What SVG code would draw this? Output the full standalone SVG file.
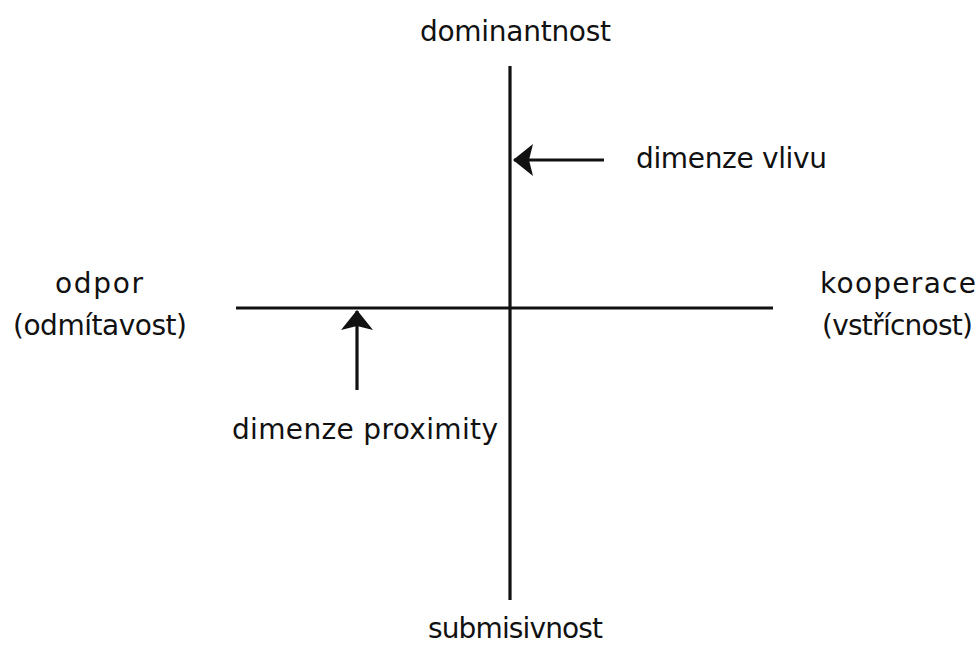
<svg xmlns="http://www.w3.org/2000/svg" width="978" height="648" viewBox="0 0 978 648">
<style>
.t{font-family:"DejaVu Sans","Liberation Sans",sans-serif;font-size:28px;fill:#111}
.ax{stroke:#111;stroke-width:3.2;fill:none}
</style>
<defs>
<marker id="ah" viewBox="0 0 20 32" refX="19" refY="16" markerWidth="20" markerHeight="32" markerUnits="userSpaceOnUse" orient="auto">
<path d="M20,16 L0,0 L4,16 L0,32 Z" fill="#111"/>
</marker>
</defs>
<rect width="978" height="648" fill="#fff"/>
<g id="connectors">
<line class="ax" x1="510" y1="66" x2="510" y2="600"/>
<line class="ax" x1="236" y1="308" x2="773" y2="308"/>
<line class="ax" x1="604" y1="160" x2="514" y2="160" marker-end="url(#ah)"/>
<line class="ax" x1="357" y1="390" x2="357" y2="311" marker-end="url(#ah)"/>
</g>
<g id="dominantnost"><text class="t" x="420" y="41" textLength="191">dominantnost</text></g>
<g id="submisivnost"><text class="t" x="428" y="638" textLength="175">submisivnost</text></g>
<g id="odpor"><text class="t" x="55" y="293" textLength="88">odpor</text><text class="t" x="13" y="335" textLength="174">(odmítavost)</text></g>
<g id="kooperace"><text class="t" x="820" y="293" textLength="156">kooperace</text><text class="t" x="822" y="335" textLength="151">(vstřícnost)</text></g>
<g id="dimenze-vlivu"><text class="t" x="636" y="168" textLength="191">dimenze vlivu</text></g>
<g id="dimenze-proximity"><text class="t" x="232" y="439" textLength="266">dimenze proximity</text></g>
</svg>
